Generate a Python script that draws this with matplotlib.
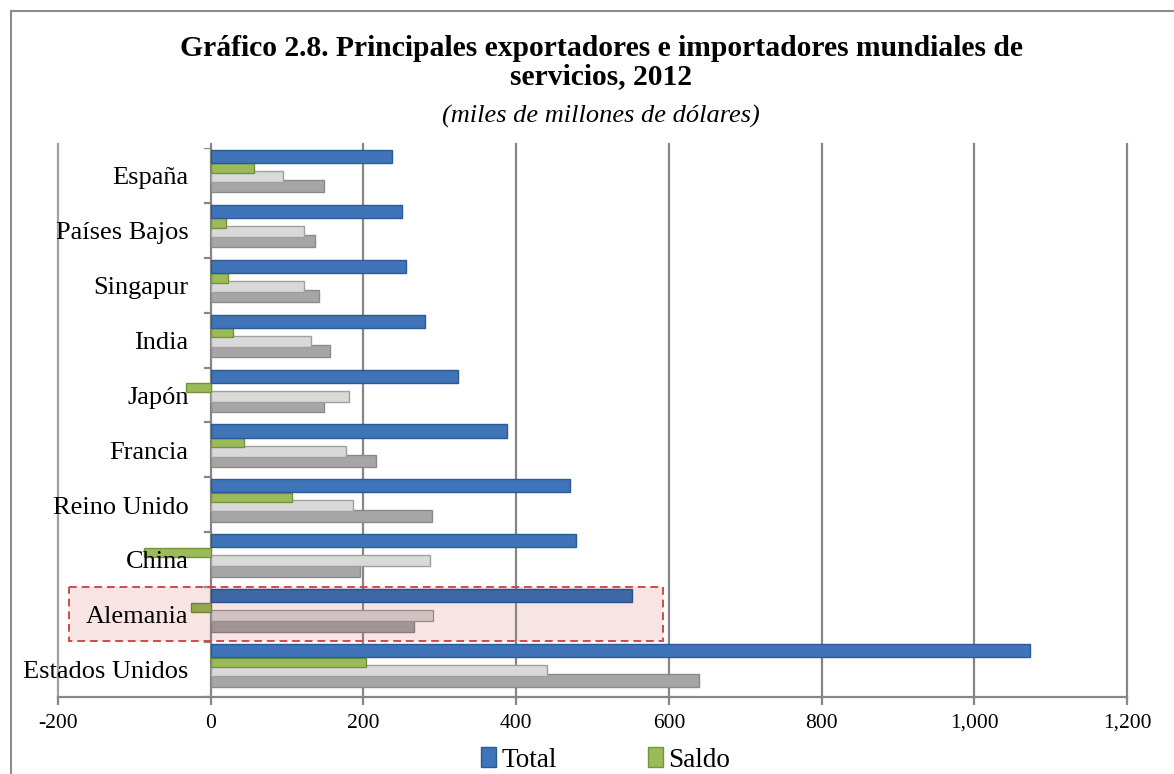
import numpy as np
import matplotlib
matplotlib.use("Agg")
import matplotlib.pyplot as plt
from matplotlib.colors import to_rgb
from matplotlib.patches import Rectangle, Patch
from matplotlib.lines import Line2D

plt.rcParams["font.family"] = ["Liberation Serif", "DejaVu Serif"]

paises = ["España", "Países Bajos", "Singapur", "India", "Japón", "Francia",
          "Reino Unido", "China", "Alemania", "Estados Unidos"]
total = [237, 251, 256, 281, 324, 388, 471, 479, 552, 1073]
saldo = [57, 20, 23, 29, -33, 43, 107, -88, -26, 203]
importaciones = [95, 122, 122, 131, 181, 177, 186, 287, 291, 440]
exportaciones = [148, 137, 142, 156, 149, 217, 290, 196, 266, 640]
xticks = [-200, 0, 200, 400, 600, 800, 1000, 1200]
xticklabels = ["-200", "0", "200", "400", "600", "800", "1,000", "1,200"]
resaltado = "Alemania"

tinte = np.array([0.97, 0.89, 0.89])  # pink tint of the highlight box


def teñir(c):
    return tuple(np.array(to_rgb(c)) * tinte)


fig = plt.figure(figsize=(11.74, 7.74), dpi=100)
ax = fig.add_axes([58 / 1174, 1 - 697 / 774, 1069 / 1174, 549 / 774])

y = np.arange(len(paises))
i_al = paises.index(resaltado)
series = [
    (total, -0.345, 0.24, "#3f74b9", "#2b5a95", "Total"),
    (saldo, -0.134, 0.17, "#9bbb59", "#76923c", "Saldo"),
    (importaciones, 0.02, 0.2, "#d9d9d9", "#a0a0a0", "Importaciones"),
    (exportaciones, 0.2, 0.22, "#a6a6a6", "#8a8a8a", "Exportaciones"),
]
for vals, off, h, col, ec, lab in series[::-1]:
    cols = [teñir(col) if i == i_al else col for i in range(len(paises))]
    ecs = [teñir(ec) if i == i_al else ec for i in range(len(paises))]
    ax.barh(y + off, vals, height=h, color=cols, edgecolor=ecs, linewidth=1.0,
            label=lab, zorder=3)

ax.set_xlim(-200, 1200)
ax.set_ylim(len(paises) - 0.5, -0.5)

# gridlines and 3D-ish walls
for xv in xticks[1:]:
    ax.plot([xv, xv], [len(paises) - 0.5, -0.58], color="#868686", lw=1.6,
            zorder=1, clip_on=False)
ax.plot([-200, -200], [len(paises) - 0.5, -0.58], color="#a0a0a0", lw=1.6,
        zorder=1, clip_on=False)
for k in range(len(paises) + 1):
    ax.plot([-8, 0], [k - 0.5, k - 0.5], color="#868686", lw=1.6, zorder=2)

for sp in ["top", "right", "left"]:
    ax.spines[sp].set_visible(False)
ax.spines["bottom"].set_color("#868686")
ax.spines["bottom"].set_linewidth(1.6)
ax.set_xticks(xticks)
ax.set_xticklabels(xticklabels, fontsize=15.5)
ax.tick_params(axis="x", length=6, width=1.6, color="#868686", pad=6)
ax.set_yticks([])

for i, p in enumerate(paises):
    ax.text(-29, i + 0.05, p, ha="right", va="center", fontsize=19, zorder=5)

# highlight box
ax.add_patch(Rectangle((-185, i_al - 0.5), 777, 0.98, facecolor="#f9e4e4",
                       edgecolor="none", zorder=0.5, clip_on=False))
ax.add_patch(Rectangle((-185, i_al - 0.5), 777, 0.98, facecolor="none",
                       edgecolor="#d04a4a", linestyle=(0, (4, 2.5)), lw=1.4,
                       zorder=4, clip_on=False))

xc = 601 / 1174
fig.text(xc, 1 - 48 / 774, "Gráfico 2.8. Principales exportadores e importadores mundiales de",
         ha="center", va="center", fontsize=21.3, fontweight="bold")
fig.text(xc, 1 - 77 / 774, "servicios, 2012", ha="center", va="center",
         fontsize=21.3, fontweight="bold")
fig.text(xc, 1 - 116 / 774, "(miles de millones de dólares)", ha="center",
         va="center", fontsize=19, style="italic")

# outer frame
fig.add_artist(Line2D([11 / 1174, 11 / 1174], [0, 1 - 11 / 774], color="#8c8c8c", lw=1.5))
fig.add_artist(Line2D([11 / 1174, 1], [1 - 11 / 774, 1 - 11 / 774], color="#8c8c8c", lw=1.5))

handles = [Patch(facecolor="#3f74b9", edgecolor="#2b5a95"),
           Patch(facecolor="#9bbb59", edgecolor="#76923c")]
fig.legend(handles, ["Total", "Saldo"], loc="center", bbox_to_anchor=(0.516, 1 - 760 / 774),
           ncol=2, frameon=False, fontsize=19.5, handlelength=0.55, handleheight=0.75,
           handletextpad=0.2, columnspacing=3.35)

fig.savefig("out.png", dpi=100)
